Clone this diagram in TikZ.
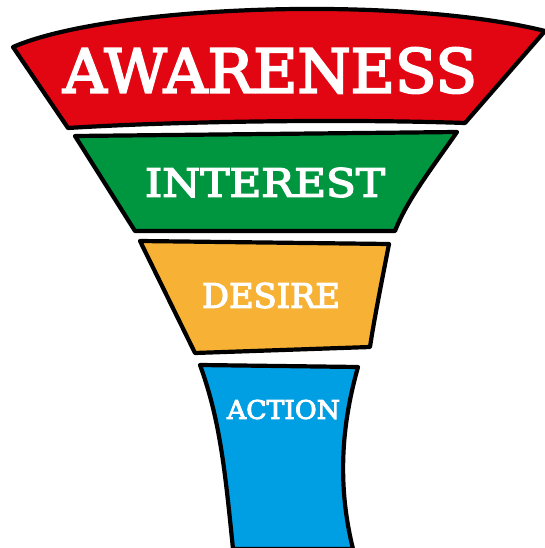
\documentclass[tikz,border=0pt]{standalone}
\usepackage{fontspec}
\setmainfont{DejaVu Serif}
\newfontfamily\stagefont[FakeBold=3.5]{DejaVu Serif}
\begin{document}
\begin{tikzpicture}[x=1pt,y=-1pt,
  band/.style={draw=black,line width=4.2pt,line join=round,line cap=round},
  label/.style={text=white,inner sep=0pt,font=\stagefont}]
\definecolor{awred}{RGB}{226,6,19}
\definecolor{ingreen}{RGB}{0,150,64}
\definecolor{deyellow}{RGB}{247,177,52}
\definecolor{acblue}{RGB}{0,159,227}
\useasboundingbox (0,0) rectangle (545,548);
\clip (0,0) rectangle (545,548);

% top band
\draw[band,fill=awred] (13,47) .. controls (110,5) and (400,-5) .. (545,31)
  -- (465,123) .. controls (350,119) and (180,121) .. (68,128) -- cycle;
% second band
\draw[band,fill=ingreen] (75,136) -- (457,132)
  .. controls (432,168) and (407,200) .. (395,231)
  -- (135,231) -- cycle;
% third band
\draw[band,fill=deyellow] (140,241) -- (389,244)
  .. controls (382,280) and (374,320) .. (370,347)
  -- (195,353) -- cycle;
% spout
\draw[band,fill=acblue] (200,365) -- (358,367)
  .. controls (343,420) and (336,480) .. (353,549)
  -- (233,549) .. controls (225,470) and (220,420) .. cycle;

\node[label] (aw) at (270,70.5) {\resizebox{414pt}{45pt}{AWARENESS}};
\node[label] (in) at (265,182.5) {\resizebox{240pt}{29pt}{INTEREST}};
\node[label] (de) at (271,295.5) {\resizebox{138pt}{25pt}{DESIRE}};
\node[label] (ac) at (283.5,409.5) {\resizebox{113pt}{19pt}{ACTION}};
\end{tikzpicture}
\end{document}
